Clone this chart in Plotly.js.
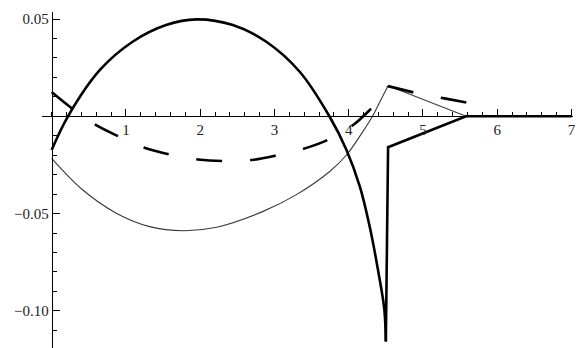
<!DOCTYPE html>
<html>
<head>
<meta charset="utf-8">
<script src="https://cdn.plot.ly/plotly-3.0.1.min.js"></script>
<style>
  body { margin: 0; background: #fff; }
  #myDiv { width: 584px; height: 348px; }
</style>
</head>
<body>
<div id="myDiv"></div>
<script>
// values
let thickX = [0, 0.22, 0.65, 1.09, 1.54, 1.95, 2.44, 2.89, 3.34, 3.74, 3.97, 4.15, 4.28, 4.41, 4.48, 4.5, 4.53, 5.58, 7];
let thickY = [-0.0173, 0, 0.0238, 0.0383, 0.0469, 0.0498, 0.0469, 0.0383, 0.0229, 0, -0.0173, -0.0362, -0.0563, -0.0824, -0.0995, -0.1158, -0.0159, 0, 0];

let thinX = [0, 0.42, 0.87, 1.32, 1.77, 2.22, 2.84, 3.29, 3.74, 3.97, 4.19, 4.32, 4.41, 4.53, 5.58, 7];
let thinY = [-0.0216, -0.0379, -0.0498, -0.0567, -0.0588, -0.057, -0.049, -0.0404, -0.0285, -0.0199, -0.0079, 0, 0.0067, 0.0157, 0, 0];

let dashX = [0, 0.29, 0.6, 0.91, 1.25, 1.59, 1.97, 2.31, 2.69, 3.03, 3.41, 3.73, 4.06, 4.32, 4.45, 4.53, 4.89, 5.29, 5.63];
let dashY = [0.0125, 0.0036, -0.0046, -0.0105, -0.0162, -0.0196, -0.0222, -0.023, -0.0225, -0.0201, -0.0165, -0.0119, -0.0045, 0.0046, 0.0095, 0.0155, 0.0121, 0.0092, 0.0067];

let xTickVals = [1, 2, 3, 4, 5, 6, 7];
let yTickVals = [-0.10, -0.05, 0.05];
let yTickText = ['\u22120.10', '\u22120.05', '0.05'];

// where the smooth part ends and straight pieces start
let thickKnot = 15;
let thinKnot = 13;
let dashKnot = 15;

let xMin = -0.13, xMax = 7.02;
let yMin = -0.1191, yMax = 0.0536;

function part(arr, a, b) { return arr.slice(a, b); }

let thickLine = { color: '#000', width: 2.6 };
let thinLine = { color: '#3a3a3a', width: 1.1 };
let dashLine = { color: '#000', width: 2.6, dash: '26px,28px' };

let traces = [
    { x: part(thinX, 0, thinKnot + 1), y: part(thinY, 0, thinKnot + 1), line: Object.assign({ shape: 'spline' }, thinLine) },
    { x: part(thinX, thinKnot), y: part(thinY, thinKnot), line: thinLine },
    { x: part(dashX, 0, dashKnot + 1), y: part(dashY, 0, dashKnot + 1), line: Object.assign({ shape: 'spline' }, dashLine) },
    { x: part(dashX, dashKnot), y: part(dashY, dashKnot), line: dashLine },
    { x: part(thickX, 0, thickKnot + 1), y: part(thickY, 0, thickKnot + 1), line: Object.assign({ shape: 'spline' }, thickLine) },
    { x: part(thickX, thickKnot), y: part(thickY, thickKnot), line: thickLine }
];
traces.forEach(function (t) { t.mode = 'lines'; t.type = 'scatter'; t.hoverinfo = 'skip'; });

let tickFont = { family: 'Liberation Serif', size: 15, color: '#222' };

let layout = {
    width: 584,
    height: 348,
    margin: { l: 42, r: 11, t: 12, b: 0 },
    paper_bgcolor: '#fff',
    plot_bgcolor: '#fff',
    showlegend: false,
    xaxis: {
        range: [xMin, xMax],
        anchor: 'free',
        position: (0 - yMin) / (yMax - yMin),
        showgrid: false,
        zeroline: false,
        showline: true,
        linecolor: '#000',
        linewidth: 1,
        tickmode: 'array',
        tickvals: xTickVals,
        ticks: 'inside',
        ticklen: 7,
        tickcolor: '#000',
        tickfont: tickFont,
        minor: { tickmode: 'linear', tick0: 0, dtick: 0.2, ticks: 'inside', ticklen: 4, tickcolor: '#000' }
    },
    yaxis: {
        range: [yMin, yMax],
        anchor: 'free',
        position: (0 - xMin) / (xMax - xMin),
        showgrid: false,
        zeroline: false,
        showline: true,
        linecolor: '#000',
        linewidth: 1,
        tickmode: 'array',
        tickvals: yTickVals,
        ticktext: yTickText,
        ticks: 'inside',
        ticklen: 7,
        tickcolor: '#000',
        tickfont: tickFont,
        minor: { tickmode: 'linear', tick0: 0, dtick: 0.01, ticks: 'inside', ticklen: 4, tickcolor: '#000' }
    }
};

Plotly.newPlot('myDiv', traces, layout, { staticPlot: true });
</script>
</body>
</html>
